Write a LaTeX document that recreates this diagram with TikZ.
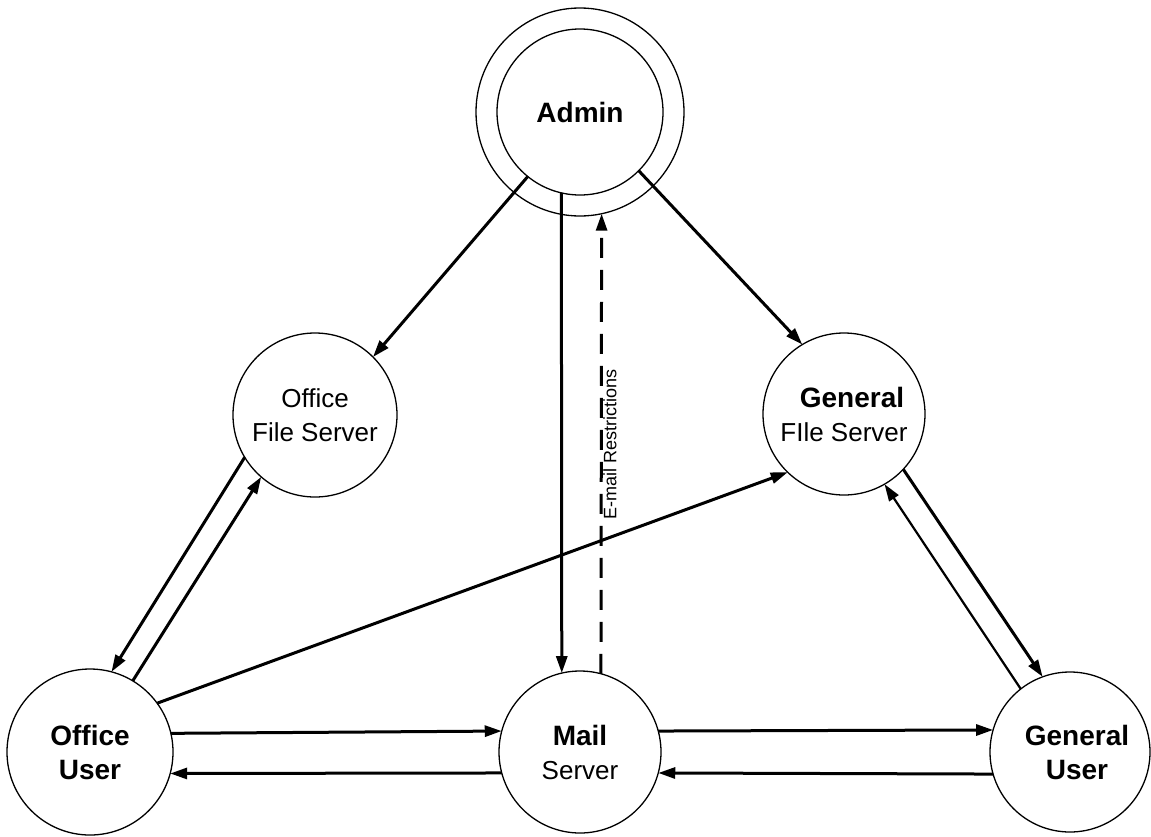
\documentclass[tikz,border=0pt]{standalone}
\usepackage{fontspec}
\setmainfont{Liberation Sans}
\usetikzlibrary{arrows.meta}
\newcommand{\regtext}{\fontsize{26}{34}\selectfont}
\newcommand{\boldtext}{\fontsize{28}{34}\selectfont\bfseries}
\begin{document}
\begin{tikzpicture}[x=1pt,y=-1pt,
  station/.style={circle,draw,line width=1.3pt,inner sep=0pt,outer sep=0pt,
    align=center,font=\regtext},
  boldstation/.style={station,font=\boldtext},
  link/.style={line width=3pt,-{Triangle[length=17pt,width=11pt]}},
  thinlink/.style={link,line width=2.2pt},
  restrict/.style={link,dash pattern=on 20pt off 12pt},
]
\fill[white] (0,0) rectangle (1151,836);
\useasboundingbox (0,0) rectangle (1151,836);

% stations
\node[station,minimum size=208pt] (adminring) at (580,112) {};
\node[boldstation,minimum size=166pt] (admin) at (580,112) {Admin};
\node[station,minimum size=164pt] (ofs) at (315,415) {Office\\File Server};
\node[station,minimum size=162pt] (gfs) at (844,414)
  {\hspace*{16pt}{\boldtext General}\\FIle Server};
\node[boldstation,minimum size=166pt] (ou) at (90,752) {Office\\User};
\node[station,minimum size=162pt] (mail) at (580,752) {{\boldtext Mail}\\Server};
\node[boldstation,minimum size=160pt] (gu) at (1070,752)
  {\hspace*{14pt}General\\\hspace*{14pt}User};

% admin links
\draw[link] (admin.231.3) -- (ofs.45.5);
\draw[link] (admin.-103.2) -- (mail.103.6);
\draw[link] (admin.-45) -- (gfs.121.8);
\draw[restrict] (mail.75) -- (adminring.-78.4);
\node[rotate=90,inner sep=0pt,font=\fontsize{18}{20}\selectfont] (restr) at (610,444)
  {E-mail Restrictions};

% office side
\draw[link] (ofs.211.6) -- (ou.75);
\draw[link] (ou.59.8) -- (ofs.229.7);
\draw[link] (ou.36) -- (gfs.226);

% general side
\draw[link] (gfs.-43.1) -- (gu.110.8);
\draw[thinlink] (gu.128) -- (gfs.-60);

% bottom row
\draw[link] (ou.13.9) -- (mail.165.7);
\draw[link] (mail.195.8) -- (ou.-15.4);
\draw[link] (mail.15) -- (gu.164.8);
\draw[link] (gu.196) -- (mail.-15.8);
\end{tikzpicture}
\end{document}
